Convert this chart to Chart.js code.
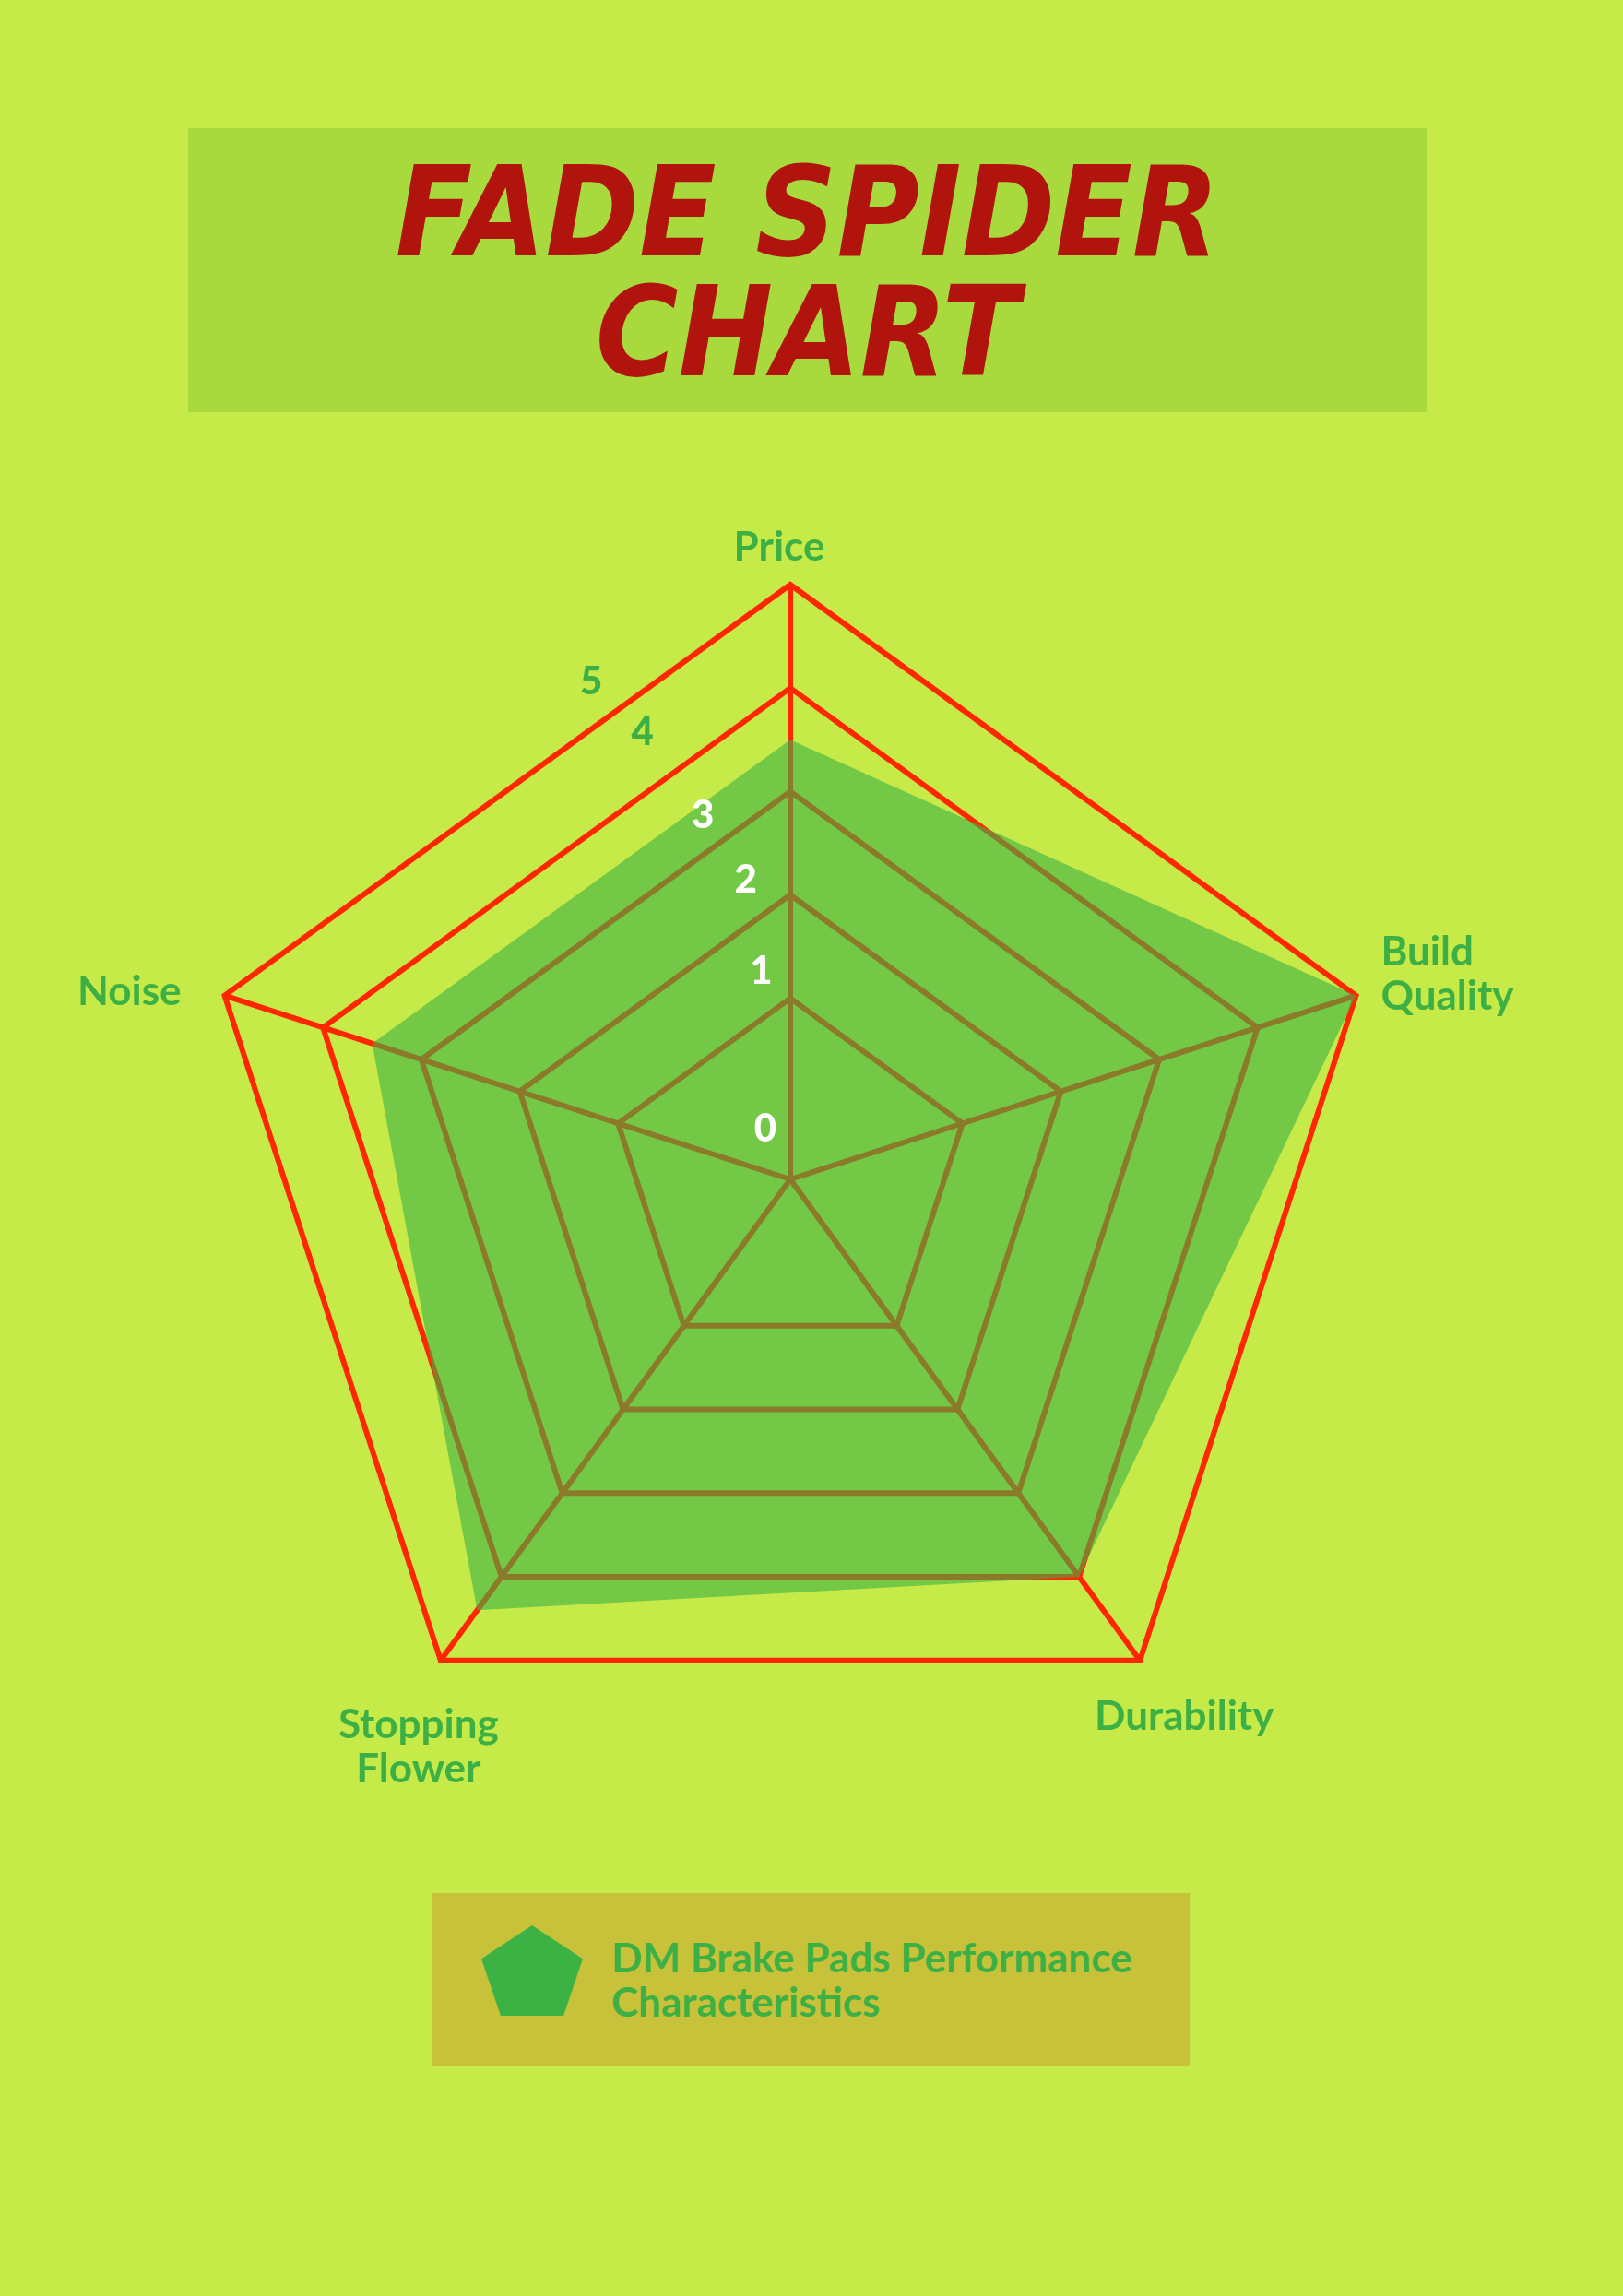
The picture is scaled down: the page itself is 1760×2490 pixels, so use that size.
<!DOCTYPE html>
<html>
<head>
<meta charset="utf-8">
<title>Fade Spider Chart</title>
<script src="https://cdn.jsdelivr.net/npm/chart.js@4.4.1/dist/chart.umd.min.js"></script>
<style>
  html, body { margin:0; padding:0; }
  body {
    width:1760px; height:2490px; position:relative; overflow:hidden;
    background:#C6EB48; font-family:Lato, 'Open Sans', sans-serif;
  }
  #radar { position:absolute; left:0; top:0; }
  .title-box {
    position:absolute; left:204px; top:139px; width:1343px; height:308px;
    background:#A8DA3E;
  }
  .title-box h1 {
    margin:0; padding-top:26px; text-align:center;
    font-family:'DejaVu Sans', sans-serif; font-weight:bold; font-style:oblique;
    font-size:136px; line-height:130px; color:#B0140C;
    transform:scaleX(0.9);
  }
  .legend-box {
    position:absolute; left:469px; top:2053px; width:821px; height:188px;
    background:#C8C23A;
  }
  .legend-box .swatch {
    position:absolute; left:53px; top:35px; width:110px; height:98px;
    clip-path:polygon(50% 0%, 100% 37%, 81% 100%, 19% 100%, 0% 37%);
  }
  .legend-box .text {
    position:absolute; left:194px; top:45px; width:600px;
    font-weight:700; font-size:44px; line-height:48px; color:#3DB045;
  }
</style>
</head>
<body>
<div class="title-box"><h1>FADE SPIDER<br>CHART</h1></div>
<canvas id="radar" width="1760" height="2490"></canvas>
<div class="legend-box" id="legend"></div>

<script>
// ---- data ----
const CATEGORIES = ['Price', ['Build', 'Quality'], 'Durability', ['Stopping', 'Flower'], 'Noise'];
const SERIES_NAME = 'DM Brake Pads Performance Characteristics';
const SERIES_VALUES = [3.5, 5, 4, 4.4, 3.5];
const RING_VALUES = [1, 2, 3, 4, 5];
const TICK_LABELS = ['0', '1', '2', '3', '4', '5'];
const SCALE_MIN = -0.75;   // rings do not start at the centre in the original
const SCALE_MAX = 5;

// ---- styling ----
const LINE_RED = '#FF2600';
const GREEN_RGB = '60,178,68';
const LABEL_GREEN = '#3DB045';

// where each axis title sits relative to its outer vertex
const POINT_LABEL_PLACE = [
  { dx: -12, dy: -40, align: 'center' },
  { dx: 27,  dy: -23, align: 'left' },
  { dx: -49, dy: 61,  align: 'left' },
  { dx: -24, dy: 94,  align: 'center' },
  { dx: -47, dy: -4,  align: 'right' }
];
// tick numbers: [fraction of radius, degrees to the left of the Price axis]
const TICK_PLACE = [[0.094, 26.4], [0.353, 8], [0.508, 8.5], [0.629, 13.5], [0.791, 18.3], [0.901, 21.8]];

const axisText = {
  id: 'axisText',
  afterDatasetsDraw(chart) {
    const r = chart.scales.r;
    const ctx = chart.ctx;
    ctx.save();

    // axis titles
    ctx.font = '700 44px Lato, "Open Sans", sans-serif';
    ctx.fillStyle = LABEL_GREEN;
    ctx.textBaseline = 'middle';
    const lineH = 48;
    chart.data.labels.forEach((label, i) => {
      const p = r.getPointPosition(i, r.drawingArea);
      const place = POINT_LABEL_PLACE[i];
      const lines = Array.isArray(label) ? label : [label];
      const y0 = p.y + place.dy - (lines.length - 1) * lineH / 2;
      ctx.textAlign = place.align;
      lines.forEach((ln, k) => ctx.fillText(ln, p.x + place.dx, y0 + k * lineH));
    });

    // tick numbers
    ctx.font = '900 42px Lato, "Open Sans", sans-serif';
    ctx.textAlign = 'center';
    TICK_LABELS.forEach((t, i) => {
      const [frac, deg] = TICK_PLACE[i];
      const a = deg * Math.PI / 180;
      const d = frac * r.drawingArea;
      ctx.fillStyle = i < 4 ? '#FFFFFF' : LABEL_GREEN;
      ctx.fillText(t, r.xCenter - d * Math.sin(a), r.yCenter - d * Math.cos(a));
    });

    ctx.restore();
  }
};

const chart = new Chart(document.getElementById('radar'), {
  type: 'radar',
  data: {
    labels: CATEGORIES,
    datasets: [{
      label: SERIES_NAME,
      data: SERIES_VALUES,
      fill: 'start',
      backgroundColor: 'rgba(' + GREEN_RGB + ',0.6)',
      borderColor: 'rgba(0,0,0,0)',
      borderWidth: 0,
      pointRadius: 0
    }]
  },
  options: {
    responsive: false,
    animation: false,
    devicePixelRatio: 1,
    layout: { padding: { left: 212, top: 634, right: 258, bottom: 566 } },
    plugins: { legend: { display: false }, tooltip: { enabled: false } },
    scales: {
      r: {
        min: SCALE_MIN,
        max: SCALE_MAX,
        afterBuildTicks: s => { s.ticks = [SCALE_MIN].concat(RING_VALUES).map(v => ({ value: v })); },
        ticks: { display: false },
        pointLabels: { display: false },
        grid: { color: LINE_RED, lineWidth: 6 },
        angleLines: { color: LINE_RED, lineWidth: 6 }
      }
    }
  },
  plugins: [axisText]
});

// html legend built from the dataset
const legend = document.getElementById('legend');
legend.innerHTML = chart.data.datasets.map(ds => `
  <div class="swatch" style="background:rgb(${GREEN_RGB})"></div>
  <div class="text">DM Brake Pads Performance<br>Characteristics</div>
`).join('');
</script>
</body>
</html>
